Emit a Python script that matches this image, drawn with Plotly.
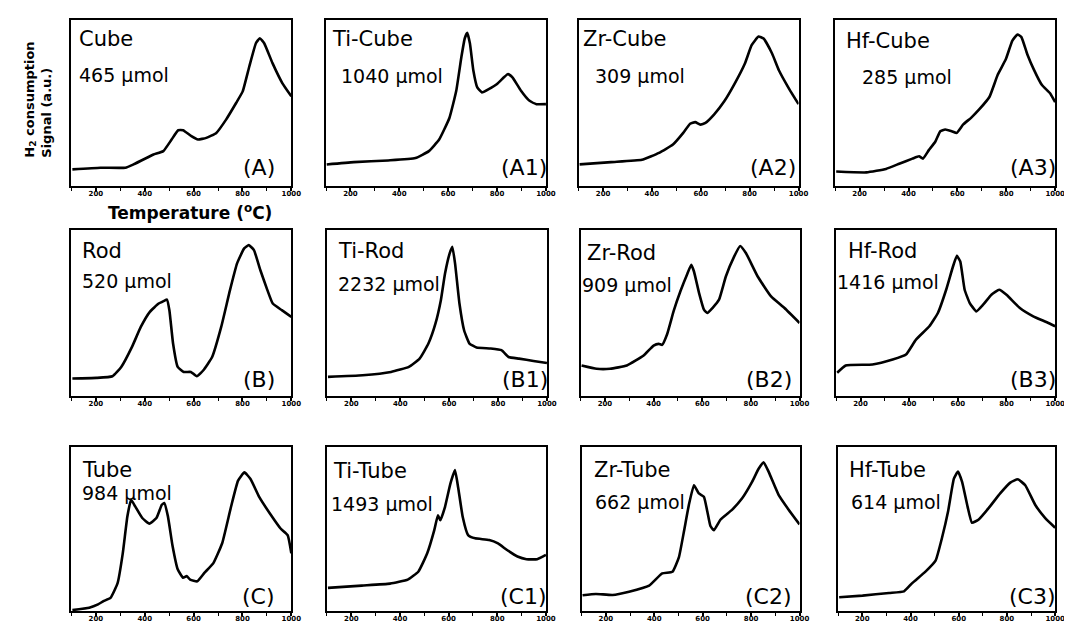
import plotly.graph_objects as go

# ---------------- data (temperature in °C, signal normalised 0..1 within panel) -------------
cube_T = [104, 219, 321, 354, 409, 436, 476, 510, 537, 557, 591, 618, 652, 693, 733, 774, 801, 828, 855, 871, 889, 923, 963, 1000]
cube_S = [0.10, 0.11, 0.11, 0.13, 0.17, 0.19, 0.21, 0.28, 0.336, 0.336, 0.30, 0.28, 0.29, 0.32, 0.40, 0.50, 0.57, 0.72, 0.86, 0.89, 0.86, 0.74, 0.62, 0.54]

ticube_T = [103, 214, 354, 466, 521, 563, 605, 633, 654, 668, 678, 689, 703, 719, 738, 766, 800, 828, 845, 863, 898, 933, 961, 1000]
ticube_S = [0.13, 0.144, 0.154, 0.168, 0.21, 0.28, 0.41, 0.574, 0.777, 0.89, 0.923, 0.858, 0.696, 0.594, 0.564, 0.584, 0.615, 0.655, 0.675, 0.655, 0.574, 0.513, 0.493, 0.493]

zrcube_T = [104, 233, 359, 429, 486, 528, 556, 577, 598, 619, 654, 696, 738, 780, 808, 836, 857, 892, 920, 962, 1000]
zrcube_S = [0.13, 0.144, 0.158, 0.20, 0.25, 0.32, 0.375, 0.385, 0.37, 0.38, 0.43, 0.51, 0.615, 0.736, 0.848, 0.90, 0.888, 0.797, 0.696, 0.584, 0.493]

hfcube_T = [104, 228, 308, 362, 416, 443, 459, 483, 510, 530, 550, 577, 597, 624, 657, 691, 731, 765, 798, 825, 846, 862, 886, 913, 946, 980, 1000]
hfcube_S = [0.087, 0.082, 0.103, 0.134, 0.165, 0.179, 0.165, 0.216, 0.268, 0.33, 0.34, 0.33, 0.32, 0.371, 0.412, 0.464, 0.536, 0.67, 0.763, 0.876, 0.913, 0.897, 0.794, 0.701, 0.608, 0.557, 0.505]

rod_T = [104, 202, 268, 304, 348, 384, 421, 457, 479, 491, 501, 516, 535, 560, 589, 613, 640, 676, 713, 749, 778, 807, 826, 847, 873, 902, 924, 961, 1000]
rod_S = [0.105, 0.109, 0.119, 0.175, 0.296, 0.416, 0.507, 0.557, 0.573, 0.581, 0.517, 0.316, 0.175, 0.145, 0.145, 0.119, 0.155, 0.235, 0.416, 0.638, 0.799, 0.889, 0.909, 0.879, 0.759, 0.638, 0.557, 0.517, 0.477]

tirod_T = [104, 246, 362, 435, 479, 515, 544, 566, 583, 602, 613, 624, 642, 661, 683, 712, 770, 814, 843, 886, 945, 1000]
tirod_S = [0.115, 0.125, 0.145, 0.175, 0.225, 0.316, 0.437, 0.577, 0.738, 0.859, 0.899, 0.799, 0.557, 0.396, 0.316, 0.292, 0.286, 0.276, 0.235, 0.225, 0.211, 0.199]

zrrod_T = [104, 166, 221, 290, 359, 400, 421, 435, 456, 483, 511, 538, 555, 566, 587, 607, 621, 642, 669, 697, 731, 756, 780, 828, 883, 938, 1000]
zrrod_S = [0.184, 0.164, 0.164, 0.184, 0.244, 0.304, 0.314, 0.308, 0.374, 0.514, 0.634, 0.734, 0.79, 0.75, 0.62, 0.52, 0.50, 0.53, 0.58, 0.72, 0.84, 0.904, 0.86, 0.72, 0.60, 0.53, 0.44]

hfrod_T = [104, 139, 249, 332, 387, 428, 483, 518, 552, 580, 596, 610, 628, 649, 676, 704, 738, 770, 800, 855, 910, 966, 1000]
hfrod_S = [0.14, 0.184, 0.19, 0.22, 0.25, 0.34, 0.42, 0.50, 0.64, 0.78, 0.844, 0.81, 0.64, 0.56, 0.51, 0.55, 0.61, 0.64, 0.61, 0.53, 0.48, 0.444, 0.42]

tube_T = [104, 173, 209, 231, 260, 289, 310, 329, 344, 361, 390, 419, 448, 470, 480, 495, 514, 535, 557, 572, 586, 615, 644, 681, 717, 753, 782, 808, 833, 869, 913, 956, 985, 1000]
tube_S = [0.006, 0.02, 0.04, 0.06, 0.08, 0.17, 0.35, 0.576, 0.678, 0.638, 0.567, 0.533, 0.567, 0.648, 0.658, 0.577, 0.396, 0.254, 0.203, 0.213, 0.191, 0.181, 0.232, 0.292, 0.413, 0.634, 0.795, 0.845, 0.805, 0.694, 0.593, 0.503, 0.463, 0.352]

titube_T = [104, 243, 359, 432, 476, 512, 541, 556, 566, 585, 607, 626, 639, 658, 680, 709, 767, 803, 840, 883, 920, 964, 1000]
titube_S = [0.141, 0.155, 0.167, 0.191, 0.241, 0.352, 0.493, 0.584, 0.553, 0.634, 0.775, 0.859, 0.755, 0.573, 0.463, 0.443, 0.433, 0.412, 0.372, 0.332, 0.316, 0.316, 0.342]

zrtube_T = [104, 159, 228, 296, 379, 433, 475, 502, 523, 543, 564, 584, 605, 619, 632, 646, 674, 722, 763, 804, 831, 852, 873, 914, 955, 1000]
zrtube_S = [0.096, 0.104, 0.098, 0.118, 0.155, 0.229, 0.239, 0.329, 0.488, 0.647, 0.767, 0.717, 0.697, 0.608, 0.518, 0.492, 0.558, 0.618, 0.687, 0.787, 0.867, 0.906, 0.847, 0.707, 0.618, 0.528]

hftube_T = [104, 201, 311, 373, 407, 462, 504, 531, 556, 580, 597, 614, 635, 655, 683, 724, 772, 814, 845, 876, 917, 958, 1000]
hftube_S = [0.084, 0.094, 0.11, 0.12, 0.17, 0.24, 0.307, 0.448, 0.608, 0.807, 0.851, 0.787, 0.648, 0.538, 0.558, 0.627, 0.717, 0.783, 0.803, 0.767, 0.648, 0.568, 0.508]

names = ["Cube", "Ti-Cube", "Zr-Cube", "Hf-Cube",
         "Rod", "Ti-Rod", "Zr-Rod", "Hf-Rod",
         "Tube", "Ti-Tube", "Zr-Tube", "Hf-Tube"]
amounts = ["465 µmol", "1040 µmol", "309 µmol", "285 µmol",
           "520 µmol", "2232 µmol", "909 µmol", "1416 µmol",
           "984 µmol", "1493 µmol", "662 µmol", "614 µmol"]
letters = ["(A)", "(A1)", "(A2)", "(A3)",
           "(B)", "(B1)", "(B2)", "(B3)",
           "(C)", "(C1)", "(C2)", "(C3)"]
tick_vals = [200, 400, 600, 800, 1000]
tick_text = ["200", "400", "600", "800", "1000"]

series = [(cube_T, cube_S), (ticube_T, ticube_S), (zrcube_T, zrcube_S), (hfcube_T, hfcube_S),
          (rod_T, rod_S), (tirod_T, tirod_S), (zrrod_T, zrrod_S), (hfrod_T, hfrod_S),
          (tube_T, tube_S), (titube_T, titube_S), (zrtube_T, zrtube_S), (hftube_T, hftube_S)]

# ---------------- layout (pixel geometry) ----------------
W, H = 1072, 623
def px(x):
    return x / W
def py(y):
    return 1 - y / H

row_y = [(12, 178), (222, 388), (439, 603)]
col_x = [[(64, 286), (321, 543), (576, 798), (835, 1057)],
         [(64, 286), (322, 544), (578, 799), (836, 1057)],
         [(64, 286), (322, 543), (579, 799), (838, 1057)]]
# label positions: (title_left, title_y, amount_left, amount_y, letter_right, letter_y)
lab = [
    (70, 31, 70, 67, 272, 160), (325, 31, 334, 68, 546, 160), (578, 31, 591, 68, 797, 160), (844, 33, 860, 69, 1060, 160),
    (73, 243, 73, 273, 272, 371), (331, 243, 331, 276, 547, 371), (582, 245, 577, 277, 793, 371), (846, 243, 835, 274, 1060, 371),
    (73, 462, 73, 485, 272, 588), (326, 463, 324, 496, 546, 588), (589, 462, 591, 494, 793, 588), (847, 462, 849, 494, 1060, 588),
]

FONT = "DejaVu Sans, Verdana, sans-serif"
fig = go.Figure()
layout = dict(width=W, height=H, autosize=False, margin=dict(l=0, r=0, t=0, b=0),
              paper_bgcolor="white", plot_bgcolor="white", showlegend=False)
annotations = []

for i, (T, S) in enumerate(series):
    r, c = divmod(i, 4)
    k = "" if i == 0 else str(i + 1)
    fig.add_trace(go.Scatter(x=T, y=S, mode="lines",
                             line=dict(color="black", width=2.6, shape="spline", smoothing=0.4),
                             xaxis="x" + k, yaxis="y" + k, hoverinfo="skip"))
    x0, x1 = col_x[r][c]
    y0, y1 = row_y[r]
    layout["xaxis" + k] = dict(domain=[px(x0), px(x1)], anchor="y" + k, range=[100, 1000],
                               showline=True, mirror=True, linecolor="black", linewidth=2,
                               showgrid=False, zeroline=False,
                               ticks="outside", ticklen=3, tickwidth=1.5, tickcolor="black",
                               tickvals=tick_vals, ticktext=tick_text, ticklabelstandoff=-3,
                               tickfont=dict(family=FONT, size=7, color="black", weight="bold"),
                               minor=dict(ticks="outside", ticklen=2.5, tickwidth=1.2, tickcolor="black",
                                          tickvals=[100, 300, 500, 700, 900]),
                               fixedrange=True)
    layout["yaxis" + k] = dict(domain=[py(y1), py(y0)], anchor="x" + k, range=[0, 1],
                               showline=True, mirror=True, linecolor="black", linewidth=2,
                               showgrid=False, zeroline=False, showticklabels=False, ticks="",
                               fixedrange=True)
    tl, ty, al, ay, lr, lyy = lab[i]
    annotations.append(dict(text=names[i], x=px(tl), y=py(ty), xref="paper", yref="paper",
                            xanchor="left", yanchor="middle", showarrow=False,
                            font=dict(family=FONT, size=21, color="black")))
    annotations.append(dict(text=amounts[i], x=px(al), y=py(ay), xref="paper", yref="paper",
                            xanchor="left", yanchor="middle", showarrow=False,
                            font=dict(family=FONT, size=19, color="black")))
    annotations.append(dict(text=letters[i], x=px(lr), y=py(lyy), xref="paper", yref="paper",
                            xanchor="right", yanchor="middle", showarrow=False,
                            font=dict(family=FONT, size=22, color="black")))

annotations.append(dict(text="<b>Temperature (<sup>o</sup>C)</b>", x=px(184), y=py(204),
                        xref="paper", yref="paper", xanchor="center", yanchor="middle",
                        showarrow=False, font=dict(family=FONT, size=17, color="black")))
annotations.append(dict(text="<b>H<sub>2</sub> consumption<br>Signal (a.u.)</b>", x=px(30), y=py(92),
                        xref="paper", yref="paper", xanchor="center", yanchor="middle",
                        textangle=-90, align="left", showarrow=False,
                        font=dict(family=FONT, size=13, color="black")))

layout["annotations"] = annotations
fig.update_layout(**layout)
fig.write_html("out.html")
